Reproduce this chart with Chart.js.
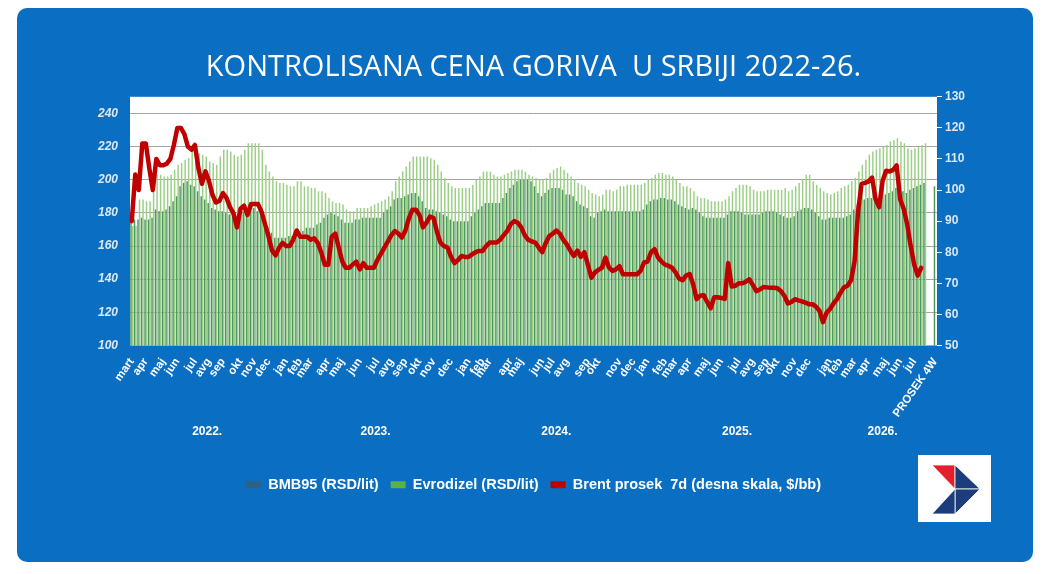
<!DOCTYPE html>
<html>
<head>
<meta charset="utf-8">
<script src="https://cdn.jsdelivr.net/npm/chart.js@4.4.1/dist/chart.umd.min.js"></script>
<style>
  html, body { margin: 0; padding: 0; background: #ffffff; }
  body { width: 1046px; height: 574px; position: relative; overflow: hidden; }
  .panel { position: absolute; left: 17px; top: 8px; width: 1016px; height: 554px; background: #0a6fc2; border-radius: 10px; }
  #chartWrap { position: absolute; left: 0; top: 0; width: 1046px; height: 574px; }
  .logo { position: absolute; left: 918px; top: 455px; width: 73px; height: 67px; }
</style>
</head>
<body>
<div class="panel"></div>
<div id="chartWrap"><canvas id="fuelChart" width="1046" height="574"></canvas></div>
<svg class="logo" viewBox="0 0 73 67">
  <rect x="0" y="0" width="73" height="67" fill="#ffffff"/>
  <polygon points="14,10 37,10 37,34" fill="#e3202b" stroke="#fff" stroke-width="0.8"/>
  <polygon points="37,10 62,34 37,34" fill="#1d3c7c" stroke="#fff" stroke-width="0.8"/>
  <polygon points="37,34 62,34 37,59" fill="#1d3c7c" stroke="#fff" stroke-width="0.8"/>
  <polygon points="14,59 37,34 37,59" fill="#1d3c7c" stroke="#fff" stroke-width="0.8"/>
</svg>
<script>
// weekly values, march 2022 -> july 2026, then one empty slot and the 4 week average
const bmb95 = [
  174, 176, 176, 177, 176, 176, 177, 182, 181, 181,
  182, 184, 187, 190, 196, 198, 199, 197, 196, 193,
  190, 188, 186, 183, 182, 181, 181, 180, 179, 178,
  177, 177, 181, 183, 183, 183, 181, 180, 176, 171,
  168, 165, 165, 165, 165, 166, 166, 169, 169, 169,
  171, 171, 171, 173, 174, 177, 179, 180, 179, 178,
  176, 174, 174, 174, 176, 176, 177, 177, 177, 177,
  177, 177, 180, 182, 184, 188, 189, 189, 190, 191,
  192, 192, 190, 187, 183, 182, 182, 181, 180, 179,
  178, 176, 175, 175, 175, 175, 175, 178, 180, 182,
  184, 186, 186, 186, 186, 186, 189, 192, 195, 197,
  199, 200, 200, 200, 199, 196, 192, 190, 192, 194,
  195, 195, 195, 194, 191, 191, 190, 187, 185, 184,
  183, 178, 177, 180, 181, 182, 181, 181, 181, 181,
  181, 181, 181, 181, 181, 181, 182, 185, 187, 188,
  188, 189, 189, 188, 188, 187, 185, 184, 183, 182,
  183, 182, 180, 178, 177, 177, 177, 177, 177, 177,
  179, 181, 181, 181, 180, 179, 179, 179, 179, 179,
  180, 181, 181, 181, 180, 179, 178, 177, 177, 178,
  181, 182, 183, 183, 182, 180, 178, 176, 176, 177,
  177, 177, 177, 177, 178, 179, 182, 185, 187, 188,
  189, 189, 188, 189, 190, 191, 192, 193, 195, 196,
  193, 192, 194, 195, 196, 197, 198
];
const evrodizel = [
  172, 172, 188, 188, 187, 187, 197, 203, 203, 202,
  202, 203, 206, 209, 210, 212, 213, 217, 217, 216,
  215, 214, 211, 210, 209, 214, 218, 218, 217, 215,
  214, 215, 218, 222, 222, 222, 222, 218, 209, 205,
  202, 199, 198, 198, 197, 196, 196, 199, 199, 196,
  196, 195, 195, 193, 193, 192, 189, 187, 186, 186,
  185, 182, 181, 181, 183, 183, 183, 183, 184, 185,
  186, 187, 188, 190, 193, 199, 202, 205, 208, 211,
  214, 214, 214, 214, 214, 213, 212, 209, 205, 201,
  198, 196, 195, 195, 195, 195, 195, 197, 200, 202,
  205, 205, 205, 203, 202, 202, 203, 204, 205, 206,
  206, 206, 205, 203, 202, 201, 200, 200, 201, 204,
  206, 207, 208, 206, 204, 202, 200, 198, 197, 196,
  194, 192, 191, 190, 191, 194, 194, 193, 194, 196,
  196, 197, 197, 197, 197, 197, 198, 200, 201, 203,
  204, 204, 203, 203, 202, 200, 198, 196, 196, 195,
  193, 190, 189, 189, 188, 187, 187, 187, 187, 188,
  190, 193, 195, 197, 197, 197, 196, 194, 193, 193,
  193, 194, 194, 194, 194, 194, 195, 193, 194, 196,
  198, 200, 203, 203, 199, 197, 195, 193, 192, 191,
  192, 193, 195, 196, 197, 199, 201, 205, 209, 212,
  215, 217, 218, 219, 220, 221, 223, 224, 225, 223,
  222, 219, 218, 219, 220, 221, 222
];
const brent = [
  90, 105, 100, 115, 115, 107, 100, 110, 108, 108,
  108.5, 110, 114.5, 120, 120, 118, 114, 113, 114.5, 107,
  102, 106, 103, 98.5, 96, 96.5, 99, 97.5, 94.5, 92.5,
  88, 94, 95, 92, 95.5, 95.5, 95.5, 93, 89, 85,
  80.5, 79, 81.5, 83, 82, 82, 84, 87, 85, 85,
  85, 84, 84.5, 83, 80, 76, 76, 85, 86, 81.5,
  77, 75, 75, 76, 77, 74.5, 76.5, 75, 75, 75,
  77.5, 79.5, 81.5, 83.5, 85.5, 86.8, 86, 84.7, 87, 91,
  93.7, 93.7, 92, 88, 89.5, 91.5, 91, 86.5, 83, 82,
  81.5, 78.5, 76.5, 77.5, 78.8, 78.5, 78.5, 79.3, 80, 80.4,
  80.4, 82, 83.1, 83.1, 83.1, 84, 85.5, 86.8, 89, 90,
  89.5, 88, 85.5, 84, 83.5, 83.1, 81.5, 80, 83, 85.2,
  86, 87, 86, 84, 82.5, 80.5, 78.8, 80.5, 78.5, 80,
  76, 71.8, 73.5, 74.3, 75, 78.3, 75.1, 74, 74.5, 75.5,
  72.9, 72.9, 72.9, 72.9, 72.9, 74, 76.7, 77, 80, 81,
  78.3, 77, 76, 75.6, 75, 73.5, 71.5, 71, 72.5, 73,
  69.7, 64.9, 66, 66.2, 64, 62, 65.5, 65.5, 65.3, 65,
  76.5, 69, 69.2, 70, 70, 70.5, 71.3, 69.5, 67.5, 68,
  68.8, 68.7, 68.6, 68.6, 68.4, 67.5, 66, 63.5, 64, 64.9,
  64.5, 64.2, 63.8, 63.3, 63.3, 62.5, 61.2, 57.5, 60.5, 61.7,
  63.5, 64.9, 67, 68.7, 69.2, 71, 77, 93, 102, 102.3,
  102.8, 104, 97, 94.5, 103, 106.2, 106, 106.5, 107.9, 97,
  94, 89, 82, 76, 72.5, 75, null
];
const prosekBmb95 = 196;
const prosekEvrodizel = null;

// [week index, label]
const monthTicks = [
  [0, "mart"], [4, "apr"], [9, "maj"], [13, "jun"], [18, "jul"], [22, "avg"], [26, "sep"], [31, "okt"], [35, "nov"], [39, "dec"],
  [44, "jan"], [48, "feb"], [51, "mar"], [56, "apr"], [60, "maj"], [65, "jun"], [70, "jul"], [74, "avg"], [78, "sep"], [82, "okt"], [86, "nov"], [91, "dec"],
  [96, "jan"], [100, "feb"], [102, "mar"], [108, "apr"], [111, "maj"], [117, "jun"], [120, "jul"], [124, "avg"], [130, "sep"], [133, "okt"], [139, "nov"], [143, "dec"],
  [147, "jan"], [152, "feb"], [155, "mar"], [159, "apr"], [164, "maj"], [168, "jun"], [173, "jul"], [177, "avg"], [181, "sep"], [184, "okt"], [189, "nov"], [193, "dec"],
  [199, "jan"], [202, "feb"], [206, "mar"], [210, "apr"], [215, "maj"], [219, "jun"], [223, "jul"]
];
const prosekLabel = "PROSEK 4W";
const yearNames = ["2022.", "2023.", "2024.", "2025.", "2026."];
const yearStarts = [0, 44, 96, 147, 199];
const leftTicks = [100, 120, 140, 160, 180, 200, 220, 240];
const rightTicks = [50, 60, 70, 80, 90, 100, 110, 120, 130];

const legendNames = ["BMB95 (RSD/lit)", "Evrodizel (RSD/lit)", "Brent prosek  7d (desna skala, $/bb)"];
const legendColors = ["#2d6186", "#5db14b", "#c00000"];

const totalSlots = bmb95.length + 3;
const labels = new Array(totalSlots).fill("");
monthTicks.forEach(([idx, name]) => { labels[idx] = name; });
labels[totalSlots - 1] = prosekLabel;

const bmbData = bmb95.concat([null, null, prosekBmb95]);
const evroData = evrodizel.concat([null, null, prosekEvrodizel]);
const brentData = brent.concat([null, null, null]);

const plotBackground = {
  id: "plotBackground",
  beforeDraw(chart) {
    const { ctx, chartArea } = chart;
    ctx.save();
    ctx.fillStyle = "#ffffff";
    ctx.fillRect(chartArea.left, chartArea.top, chartArea.right - chartArea.left, chartArea.bottom - chartArea.top);
    ctx.restore();
  }
};

const yearLabels = {
  id: "yearLabels",
  afterDraw(chart) {
    const { ctx } = chart;
    const xScale = chart.scales.x;
    ctx.save();
    ctx.fillStyle = "#ffffff";
    ctx.font = "bold 12px 'Liberation Sans', Arial, sans-serif";
    ctx.textAlign = "center";
    ctx.textBaseline = "middle";
    yearNames.forEach((name, i) => {
      const start = yearStarts[i];
      const end = i + 1 < yearStarts.length ? yearStarts[i + 1] - 1 : totalSlots - 1;
      const x = (xScale.getPixelForValue(start) + xScale.getPixelForValue(end)) / 2;
      ctx.fillText(name, x, 432);
    });
    ctx.restore();
  }
};

new Chart(document.getElementById("fuelChart"), {
  type: "bar",
  data: {
    labels: labels,
    datasets: [
      {
        type: "bar",
        label: legendNames[0],
        data: bmbData,
        backgroundColor: "#4f9663",
        yAxisID: "y",
        categoryPercentage: 0.88,
        barPercentage: 0.95,
        order: 2
      },
      {
        type: "bar",
        label: legendNames[1],
        data: evroData,
        backgroundColor: "#9bcf85",
        yAxisID: "y",
        categoryPercentage: 0.88,
        barPercentage: 0.95,
        order: 2
      },
      {
        type: "line",
        label: legendNames[2],
        data: brentData,
        borderColor: "#c00000",
        borderWidth: 4.5,
        borderJoinStyle: "round",
        borderCapStyle: "round",
        pointRadius: 0,
        tension: 0,
        yAxisID: "y1",
        order: 1
      }
    ]
  },
  options: {
    responsive: false,
    animation: false,
    layout: { padding: { left: 70, right: 49, top: 39, bottom: 72 } },
    scales: {
      x: {
        grid: { display: false },
        border: { display: false },
        ticks: {
          autoSkip: false,
          minRotation: 55,
          maxRotation: 55,
          padding: 2,
          color: "#ffffff",
          font: { family: "'Liberation Sans', Arial, sans-serif", size: 11.5, weight: "bold" }
        },
        afterFit(scale) { scale.height = 120; }
      },
      y: {
        position: "left",
        min: 100,
        max: 250,
        afterBuildTicks(scale) { scale.ticks = leftTicks.map((v) => ({ value: v })); },
        grid: { color: "#a6a6a6", drawTicks: false },
        border: { display: false },
        ticks: {
          padding: 12,
          color: "#dbe8f6",
          font: { family: "'Liberation Sans', Arial, sans-serif", size: 12, weight: "bold", style: "italic" }
        },
        afterFit(scale) { scale.width = 60; }
      },
      y1: {
        position: "right",
        min: 50,
        max: 130,
        afterBuildTicks(scale) { scale.ticks = rightTicks.map((v) => ({ value: v })); },
        grid: { drawOnChartArea: false, tickLength: 5, tickColor: "#ffffff" },
        border: { display: false },
        ticks: {
          padding: 3,
          color: "#dbe8f6",
          font: { family: "'Liberation Sans', Arial, sans-serif", size: 12, weight: "bold" }
        },
        afterFit(scale) { scale.width = 60; }
      }
    },
    plugins: {
      title: {
        display: true,
        text: "KONTROLISANA CENA GORIVA  U SRBIJI 2022-26.",
        color: "#ffffff",
        font: { family: "'Open Sans', sans-serif", size: 29, weight: "normal" },
        padding: { top: 11, bottom: 12 }
      },
      legend: {
        position: "bottom",
        labels: {
          color: "#ffffff",
          boxWidth: 15,
          boxHeight: 7,
          padding: 12,
          font: { family: "'Liberation Sans', Arial, sans-serif", size: 14.5, weight: "bold" },
          generateLabels() {
            return legendNames.map((name, i) => ({
              text: name,
              fillStyle: legendColors[i],
              strokeStyle: legendColors[i],
              lineWidth: 0,
              fontColor: "#ffffff",
              hidden: false,
              datasetIndex: i
            }));
          }
        }
      },
      tooltip: { enabled: false }
    }
  },
  plugins: [plotBackground, yearLabels]
});
</script>
</body>
</html>
